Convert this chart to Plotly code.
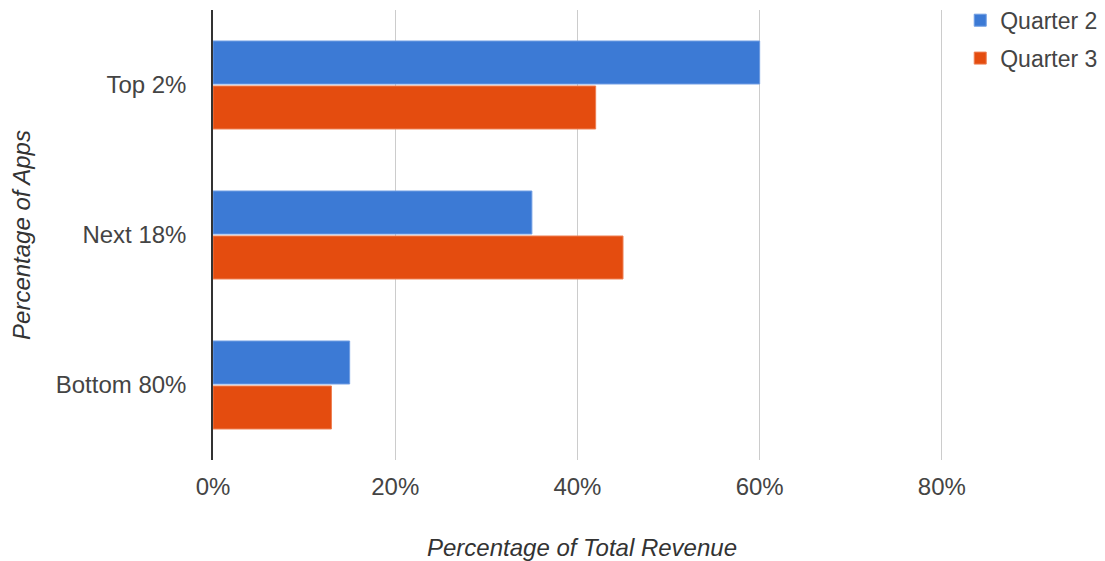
import plotly.graph_objects as go

# Share of total revenue by app tier, per quarter
categories = ["Top 2%", "Next 18%", "Bottom 80%"]
quarter2 = [0.60, 0.35, 0.15]
quarter3 = [0.42, 0.45, 0.13]
series_names = ["Quarter 2", "Quarter 3"]
x_ticks = [0, 0.2, 0.4, 0.6, 0.8]
x_tick_labels = ["0%", "20%", "40%", "60%", "80%"]

BLUE = "#3c7ad5"
BLUE_EDGE = "#6f9de3"
ORANGE = "#e44c0f"
ORANGE_EDGE = "#ee7f52"
FONT = "Liberation Sans, Arial, sans-serif"

fig = go.Figure()
fig.add_trace(go.Bar(y=categories, x=quarter2, name=series_names[0],
                     orientation="h", legendgroup="q2",
                     marker=dict(color=BLUE, line=dict(width=1, color=BLUE_EDGE))))
fig.add_trace(go.Bar(y=categories, x=quarter3, name=series_names[1],
                     orientation="h", legendgroup="q3",
                     marker=dict(color=ORANGE, line=dict(width=1, color=ORANGE_EDGE))))

fig.update_layout(
    width=1105, height=561,
    margin=dict(l=213, r=154, t=10, b=101, autoexpand=False),
    paper_bgcolor="white", plot_bgcolor="white",
    barmode="group", bargap=0.4, bargroupgap=0.045,
    font=dict(family=FONT, size=24, color="#444444"),
    showlegend=True,
    legend=dict(x=1.0125, y=1.025, xanchor="left", yanchor="top",
                font=dict(size=23, color="#444444"),
                traceorder="grouped", tracegroupgap=5,
                bgcolor="rgba(0,0,0,0)"),
    xaxis=dict(
        # range runs slightly past 80% so that gridline is still drawn
        range=[0, 0.81], tickvals=x_ticks, ticktext=x_tick_labels,
        showgrid=True, gridcolor="#cccccc", gridwidth=1,
        zeroline=False, showline=False,
        ticks="outside", ticklen=5, tickcolor="rgba(0,0,0,0)",
        tickfont=dict(size=24, color="#444444"),
        title=dict(text="<i>Percentage of Total Revenue</i>",
                   font=dict(size=24, color="#333333"), standoff=40),
        fixedrange=True,
    ),
    yaxis=dict(
        categoryorder="array", categoryarray=categories,
        autorange="reversed",
        showline=True, linecolor="#333333", linewidth=1.5,
        showgrid=False, zeroline=False,
        ticks="outside", ticklen=20, tickcolor="rgba(0,0,0,0)",
        tickfont=dict(size=24, color="#444444"),
        title=dict(text="<i>Percentage of Apps</i>",
                   font=dict(size=24, color="#333333"), standoff=18),
        fixedrange=True,
    ),
)

fig.write_html("out.html", config={"displayModeBar": False})
